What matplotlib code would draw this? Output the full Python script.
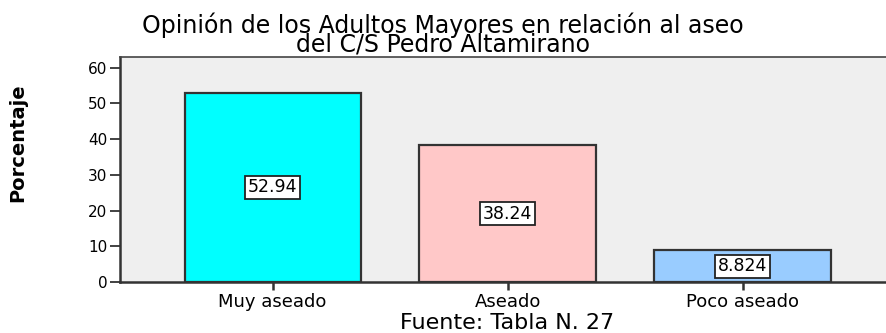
import matplotlib
matplotlib.use("Agg")
import matplotlib.pyplot as plt

# Opinion on cleanliness of the health centre (percent of respondents)
categories = ["Muy aseado", "Aseado", "Poco aseado"]
percentages = [52.94, 38.24, 8.824]
value_labels = ["52.94", "38.24", "8.824"]
bar_colors = ["#00FFFF", "#FFC8C8", "#99CCFF"]
y_ticks = [0, 10, 20, 30, 40, 50, 60]

title = "Opinión de los Adultos Mayores en relación al aseo\ndel C/S Pedro Altamirano"
source = "Fuente: Tabla N. 27"

plt.rcParams["font.family"] = ["DejaVu Sans"]

fig = plt.figure(figsize=(8.86, 3.33), dpi=100)
ax = fig.add_axes([0.1354, 0.1532, 0.875, 0.6757])
ax.set_facecolor("#EFEFEF")

x = range(len(categories))
ax.bar(x, percentages, width=0.75, color=bar_colors,
       edgecolor="#333333", linewidth=1.6, zorder=2)

# value boxes sit halfway up each bar
for xi, val, lab in zip(x, percentages, value_labels):
    ax.text(xi, val / 2, lab, ha="center", va="center", fontsize=12.5,
            color="black", zorder=3,
            bbox=dict(boxstyle="square,pad=0.15", facecolor="white",
                      edgecolor="#222222", linewidth=1.3))

ax.set_xlim(-0.65, 2.65)
ax.set_ylim(0, 63)
ax.set_yticks(y_ticks)
ax.set_yticklabels([str(t) for t in y_ticks], fontsize=11)
ax.set_xticks(list(x))
ax.set_xticklabels(categories, fontsize=13)
ax.tick_params(axis="y", length=7, width=1.3, color="#333333", pad=2)
ax.tick_params(axis="x", length=6, width=1.8, color="#333333", pad=2)

for side in ["left", "bottom"]:
    ax.spines[side].set_linewidth(1.8)
    ax.spines[side].set_color("#333333")
ax.spines["top"].set_linewidth(1.2)
ax.spines["top"].set_color("#444444")
ax.spines["right"].set_visible(False)

ax.set_ylabel("Porcentaje", fontsize=14, fontweight="bold")
ax.yaxis.set_label_coords(-0.12, 0.62)

fig.text(0.5, 1 - 12 / 333, title, ha="center", va="top", fontsize=17,
         linespacing=0.72)
fig.text(0.572, 0.0, source, ha="center", va="bottom", fontsize=16)

fig.savefig("out.png", dpi=100)
plt.close(fig)
